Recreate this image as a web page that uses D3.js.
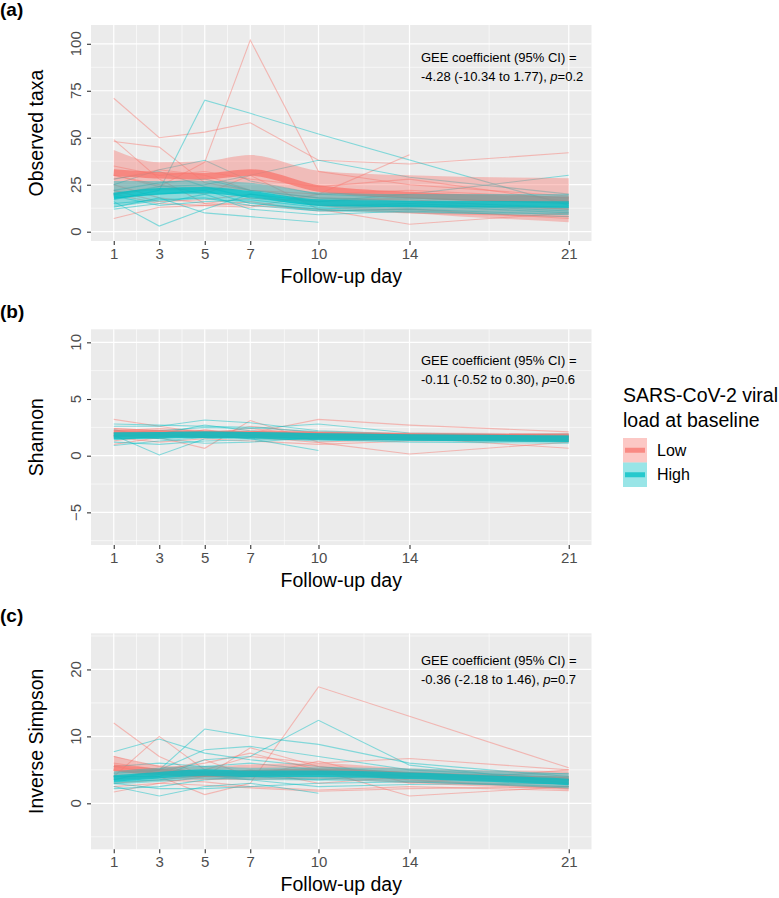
<!DOCTYPE html>
<html>
<head>
<meta charset="utf-8">
<script src="https://cdn.jsdelivr.net/npm/d3@7"></script>
<style>
  body { margin: 0; background: #fff; }
  svg { font-family: "Liberation Sans", Arial, Helvetica, sans-serif; }
</style>
</head>
<body>
<svg id="chart" width="779" height="898"></svg>
<script>
// follow-up days (x axis ticks)
const days = [1, 3, 5, 7, 10, 14, 21];
const groups = ["Low", "High"];

// (a) Observed taxa, one row per subject, null = missing visit
const taxaLow = [
  [71, 50, 53, 58, 38, 36, 42],
  [48, 45, 26, 22, 18, 17, 12],
  [30, 24, 37, 102, 32, 25, 19],
  [49, 28, 15, 14, 12, 10, 8],
  [7, 13, 14, 13, 20, 41, null],
  [30, 25, 20, 30, 12, 4, 10],
  [25, 18, 15, 18, 16, 18, 15],
  [35, 30, 32, 28, 24, 28, 16],
  [20, 15, 14, 16, 11, 12, 7],
  [28, 33, 30, 22, 20, 22, 18],
  [22, 16, 17, 20, 14, 15, 12]
];
const taxaHigh = [
  [17, 22, 70, 63, 52, null, 14],
  [16, 3, 12, 20, 16, 20, 30],
  [13, 18, 10, 8, 5, null, null],
  [20, 24, 25, 30, 38, 29, 20],
  [18, 20, 22, 15, 12, 14, 10],
  [15, 17, 18, 14, 11, 12, 9],
  [25, 33, 38, 27, 20, 18, 15],
  [12, 15, 20, 12, 9, 11, 8],
  [22, 26, 28, 22, 18, 16, 13],
  [19, 14, 16, 17, 13, 15, 11],
  [28, 32, 24, 18, 14, null, 13]
];
const taxaMeanLow = [31.5, 30, 29.5, 31.5, 23, 19.5, 17];
const taxaLoLow = [19, 22, 22, 22, 14, 10, 5];
const taxaHiLow = [43.5, 37, 37.5, 40.8, 32.5, 30, 28.5];
const taxaMeanHigh = [19, 21.5, 22, 20, 15.5, 14.7, 14.5];
const taxaLoHigh = [13, 16, 17, 15, 11, 10, 9];
const taxaHiHigh = [27, 27, 27, 26, 21, 20, 20];

// (b) Shannon
const shannonLow = [
  [3.2, 2.6, 2.0, 2.4, 1.8, 1.9, 1.6],
  [1.0, 1.6, 0.65, 3.1, 1.2, 1.5, 1.3],
  [2.4, 2.2, 2.0, 2.0, 3.2, 2.7, 2.1],
  [1.8, 1.5, 2.3, 1.7, 1.15, 0.15, 1.2],
  [2.0, 2.0, 1.8, 1.5, 1.4, 1.6, 0.65],
  [1.3, 1.9, 1.6, 2.6, 2.0, 1.8, 1.9],
  [2.2, 2.4, 2.2, 1.9, 1.7, 1.6, 1.7],
  [1.6, 1.2, 1.5, 1.3, 1.0, 1.3, 1.4]
];
const shannonHigh = [
  [1.8, 0.06, 1.5, 1.6, 1.3, 1.5, 1.4],
  [2.6, 2.6, 3.15, 2.9, 2.2, 1.9, 1.7],
  [1.4, 1.7, 1.8, 1.5, 0.45, null, null],
  [2.0, 2.2, 2.5, 2.4, 2.8, 2.0, 1.8],
  [1.2, 1.0, 1.3, 1.4, 1.5, 1.4, 1.2],
  [1.7, 1.9, 2.7, 2.2, 1.8, 1.6, 1.5],
  [2.3, 1.5, 1.1, 1.2, 1.6, 1.7, 1.6],
  [0.9, 1.3, 1.6, 1.8, 1.4, 1.2, 1.1],
  [2.8, 2.7, 2.6, 2.5, 2.1, 1.8, 1.9]
];
const shannonMeanLow = [1.95, 1.95, 1.9, 1.9, 1.8, 1.7, 1.6];
const shannonLoLow = [1.5, 1.6, 1.55, 1.55, 1.45, 1.35, 1.2];
const shannonHiLow = [2.45, 2.3, 2.25, 2.25, 2.15, 2.05, 2.0];
const shannonMeanHigh = [1.75, 1.8, 1.85, 1.8, 1.7, 1.6, 1.5];
const shannonLoHigh = [1.4, 1.5, 1.55, 1.5, 1.4, 1.3, 1.2];
const shannonHiHigh = [2.1, 2.1, 2.15, 2.1, 2.0, 1.9, 1.8];

// (c) Inverse Simpson
const invsimpLow = [
  [12, 7, 4, 5, 3, 4, 4],
  [4, 10, 5, 7, 6, 6.7, 5],
  [1.7, 3, 4, 8.3, 5.5, 4, 3.5],
  [5, 4, 1.3, 3, 17.4, null, 5.3],
  [6, 5, 6, 7.5, 5, 1.1, 2.5],
  [3, 3.5, 3.2, 2.5, 2.0, 2.5, 1.9],
  [5.5, 4.5, 6.5, 4, 6.3, 3, 5],
  [2.5, 3, 2.7, 2.3, 1.8, 2.2, 2.5],
  [7, 5.5, 4.5, 4.5, 4.8, 3.5, 2.2]
];
const invsimpHigh = [
  [7.7, 9.6, 7.5, 6.5, 5.5, 4.5, 3.5],
  [3.5, 5, 11.1, 10, 8.8, 6, 4],
  [2.5, 1.1, 2.5, 3, 1.5, null, null],
  [4, 4, 6.5, 7, 12.4, 5.7, 3],
  [3, 2.2, 2.2, 2.5, 3, 3.2, 2.5],
  [4.5, 5, 8, 8.5, 7, 5, 3.8],
  [2.2, 2.5, 3.5, 4, 3.5, 4.5, 2.8],
  [5.5, 6, 5.5, 6, 5, 4, 4.5],
  [3.2, 3.5, 4.2, 3.5, 2.5, 2.8, 3.0]
];
const invsimpMeanLow = [5.3, 4.7, 4.4, 4.5, 4.7, 4.2, 3.4];
const invsimpLoLow = [3.5, 3.7, 3.5, 3.5, 3.6, 3.0, 2.0];
const invsimpHiLow = [7.1, 5.7, 5.5, 5.8, 6.0, 5.2, 4.8];
const invsimpMeanHigh = [3.7, 4.2, 4.6, 4.4, 4.4, 4.1, 3.2];
const invsimpLoHigh = [2.8, 3.2, 3.6, 3.5, 3.4, 3.1, 2.2];
const invsimpHiHigh = [4.8, 5.3, 5.6, 5.3, 5.4, 5.2, 4.5];

const panels = [
  { tag: "(a)", ytitle: "Observed taxa", top: 25, bottom: 241, domain: [-4.95, 110],
    yticks: [0, 25, 50, 75, 100], low: taxaLow, high: taxaHigh,
    mean: [taxaMeanLow, taxaMeanHigh], lo: [taxaLoLow, taxaLoHigh], hi: [taxaHiLow, taxaHiHigh],
    gee: "-4.28 (-10.34 to 1.77), ", p: "0.2", annY: [62, 81] },
  { tag: "(b)", ytitle: "Shannon", top: 329.3, bottom: 545, domain: [-7.88, 11.15],
    yticks: [-5, 0, 5, 10], low: shannonLow, high: shannonHigh,
    mean: [shannonMeanLow, shannonMeanHigh], lo: [shannonLoLow, shannonLoHigh], hi: [shannonHiLow, shannonHiHigh],
    gee: "-0.11 (-0.52 to 0.30), ", p: "0.6", annY: [365, 384] },
  { tag: "(c)", ytitle: "Inverse Simpson", top: 633.3, bottom: 849.3, domain: [-6.87, 25.4],
    yticks: [0, 10, 20], low: invsimpLow, high: invsimpHigh,
    mean: [invsimpMeanLow, invsimpMeanHigh], lo: [invsimpLoLow, invsimpLoHigh], hi: [invsimpHiLow, invsimpHiHigh],
    gee: "-0.36 (-2.18 to 1.46), ", p: "0.7", annY: [665, 684] }
];

const colors = d3.scaleOrdinal().domain(groups).range(["#F8766D", "#00BFC4"]);
const svg = d3.select("#chart");
const x = d3.scaleLinear().domain([0, 22]).range([91, 591.5]);
const xMinor = [2, 4, 6, 8.5, 12, 17.5];

panels.forEach(p => {
  const y = d3.scaleLinear().domain(p.domain).range([p.bottom, p.top]);
  const g = svg.append("g");

  g.append("rect").attr("x", x.range()[0]).attr("y", p.top)
    .attr("width", x.range()[1] - x.range()[0]).attr("height", p.bottom - p.top)
    .attr("fill", "#EBEBEB");

  // minor grid
  const yt = p.yticks;
  const step = yt[1] - yt[0];
  const yMinor = d3.range(yt[0] - step / 2, p.domain[1], step).filter(v => v > p.domain[0]);
  g.selectAll(".ymin").data(yMinor).join("line")
    .attr("x1", x.range()[0]).attr("x2", x.range()[1])
    .attr("y1", d => y(d)).attr("y2", d => y(d))
    .attr("stroke", "#fff").attr("stroke-width", 0.6);
  g.selectAll(".xmin").data(xMinor).join("line")
    .attr("y1", p.top).attr("y2", p.bottom)
    .attr("x1", d => x(d)).attr("x2", d => x(d))
    .attr("stroke", "#fff").attr("stroke-width", 0.6);
  // major grid
  g.selectAll(".ymaj").data(yt).join("line")
    .attr("x1", x.range()[0]).attr("x2", x.range()[1])
    .attr("y1", d => y(d)).attr("y2", d => y(d))
    .attr("stroke", "#fff").attr("stroke-width", 1.2);
  g.selectAll(".xmaj").data(days).join("line")
    .attr("y1", p.top).attr("y2", p.bottom)
    .attr("x1", d => x(d)).attr("x2", d => x(d))
    .attr("stroke", "#fff").attr("stroke-width", 1.2);

  // individual trajectories
  const line = d3.line().x(d => x(d[0])).y(d => y(d[1]));
  [p.low, p.high].forEach((rows, gi) => {
    g.append("g").selectAll("path").data(rows).join("path")
      .attr("d", r => line(days.map((d, i) => [d, r[i]]).filter(d => d[1] != null)))
      .attr("fill", "none").attr("stroke", colors(groups[gi]))
      .attr("stroke-width", 1.1).attr("stroke-opacity", 0.45);
  });

  // smooth ribbons + lines
  const area = d3.area().curve(d3.curveMonotoneX)
    .x((d, i) => x(days[i])).y0(d => y(d[0])).y1(d => y(d[1]));
  const smooth = d3.line().curve(d3.curveMonotoneX).x((d, i) => x(days[i])).y(d => y(d));
  groups.forEach((gr, gi) => {
    g.append("path").attr("d", area(p.lo[gi].map((v, i) => [v, p.hi[gi][i]])))
      .attr("fill", colors(gr)).attr("fill-opacity", 0.4);
    g.append("path").attr("d", smooth(p.mean[gi]))
      .attr("fill", "none").attr("stroke", colors(gr)).attr("stroke-width", 6.5)
      .attr("stroke-opacity", 0.75);
  });

  // axes
  const xAxis = g.append("g").attr("transform", `translate(0,${p.bottom})`)
    .call(d3.axisBottom(x).tickValues(days).tickSize(4).tickPadding(3));
  xAxis.select(".domain").remove();
  xAxis.selectAll("line").attr("stroke", "#333").attr("stroke-width", 1.1);
  xAxis.selectAll("text").attr("fill", "#4D4D4D").attr("font-size", 15)
    .attr("font-family", "Liberation Sans, Arial, sans-serif");

  const yAxis = g.append("g").attr("transform", `translate(${x.range()[0]},0)`)
    .call(d3.axisLeft(y).tickValues(yt).tickSize(4).tickFormat(() => ""));
  yAxis.select(".domain").remove();
  yAxis.selectAll("line").attr("stroke", "#333").attr("stroke-width", 1.1);
  // rotated y tick labels, same path as the axis title
  yt.forEach(v => {
    g.append("text")
      .attr("transform", `translate(${x.range()[0] - 10},${y(v)}) rotate(-90)`)
      .attr("text-anchor", "middle").attr("font-size", 15)
      .style("fill", "#4D4D4D")
      .text(v < 0 ? "\u2212" + Math.abs(v) : String(v));
  });

  // titles
  g.append("text").attr("x", (x.range()[0] + x.range()[1]) / 2).attr("y", p.bottom + 42)
    .attr("text-anchor", "middle").attr("font-size", 19.5).text("Follow-up day");
  g.append("text").attr("transform", `translate(43,${(p.top + p.bottom) / 2}) rotate(-90)`)
    .attr("text-anchor", "middle").attr("font-size", 19.5).text(p.ytitle);
  g.append("text").attr("x", 0).attr("y", p.top - 9 - (p.tag === "(a)" ? 0 : 2))
    .attr("font-size", 19).attr("font-weight", "bold").text(p.tag);

  // annotation
  g.append("text").attr("x", 421).attr("y", p.annY[0]).attr("font-size", 13)
    .text("GEE coefficient (95% CI) =");
  const t2 = g.append("text").attr("x", 421).attr("y", p.annY[1]).attr("font-size", 13);
  t2.append("tspan").text(p.gee);
  t2.append("tspan").attr("font-style", "italic").text("p");
  t2.append("tspan").text("=" + p.p);
});

// legend
const leg = svg.append("g");
leg.append("text").attr("x", 623).attr("y", 402).attr("font-size", 19.5).text("SARS-CoV-2 viral");
leg.append("text").attr("x", 623).attr("y", 427).attr("font-size", 19.5).text("load at baseline");
groups.forEach((gr, i) => {
  const ky = 438 + i * 24.5;
  leg.append("rect").attr("x", 623).attr("y", ky).attr("width", 24).attr("height", 24.5)
    .attr("fill", colors(gr)).attr("fill-opacity", 0.4);
  leg.append("line").attr("x1", 625).attr("x2", 645).attr("y1", ky + 12.25).attr("y2", ky + 12.25)
    .attr("stroke", colors(gr)).attr("stroke-width", 5).attr("stroke-opacity", 0.75);
  leg.append("text").attr("x", 657).attr("y", ky + 12.25).attr("dy", "0.35em")
    .attr("font-size", 16).text(gr);
});
</script>
</body>
</html>
